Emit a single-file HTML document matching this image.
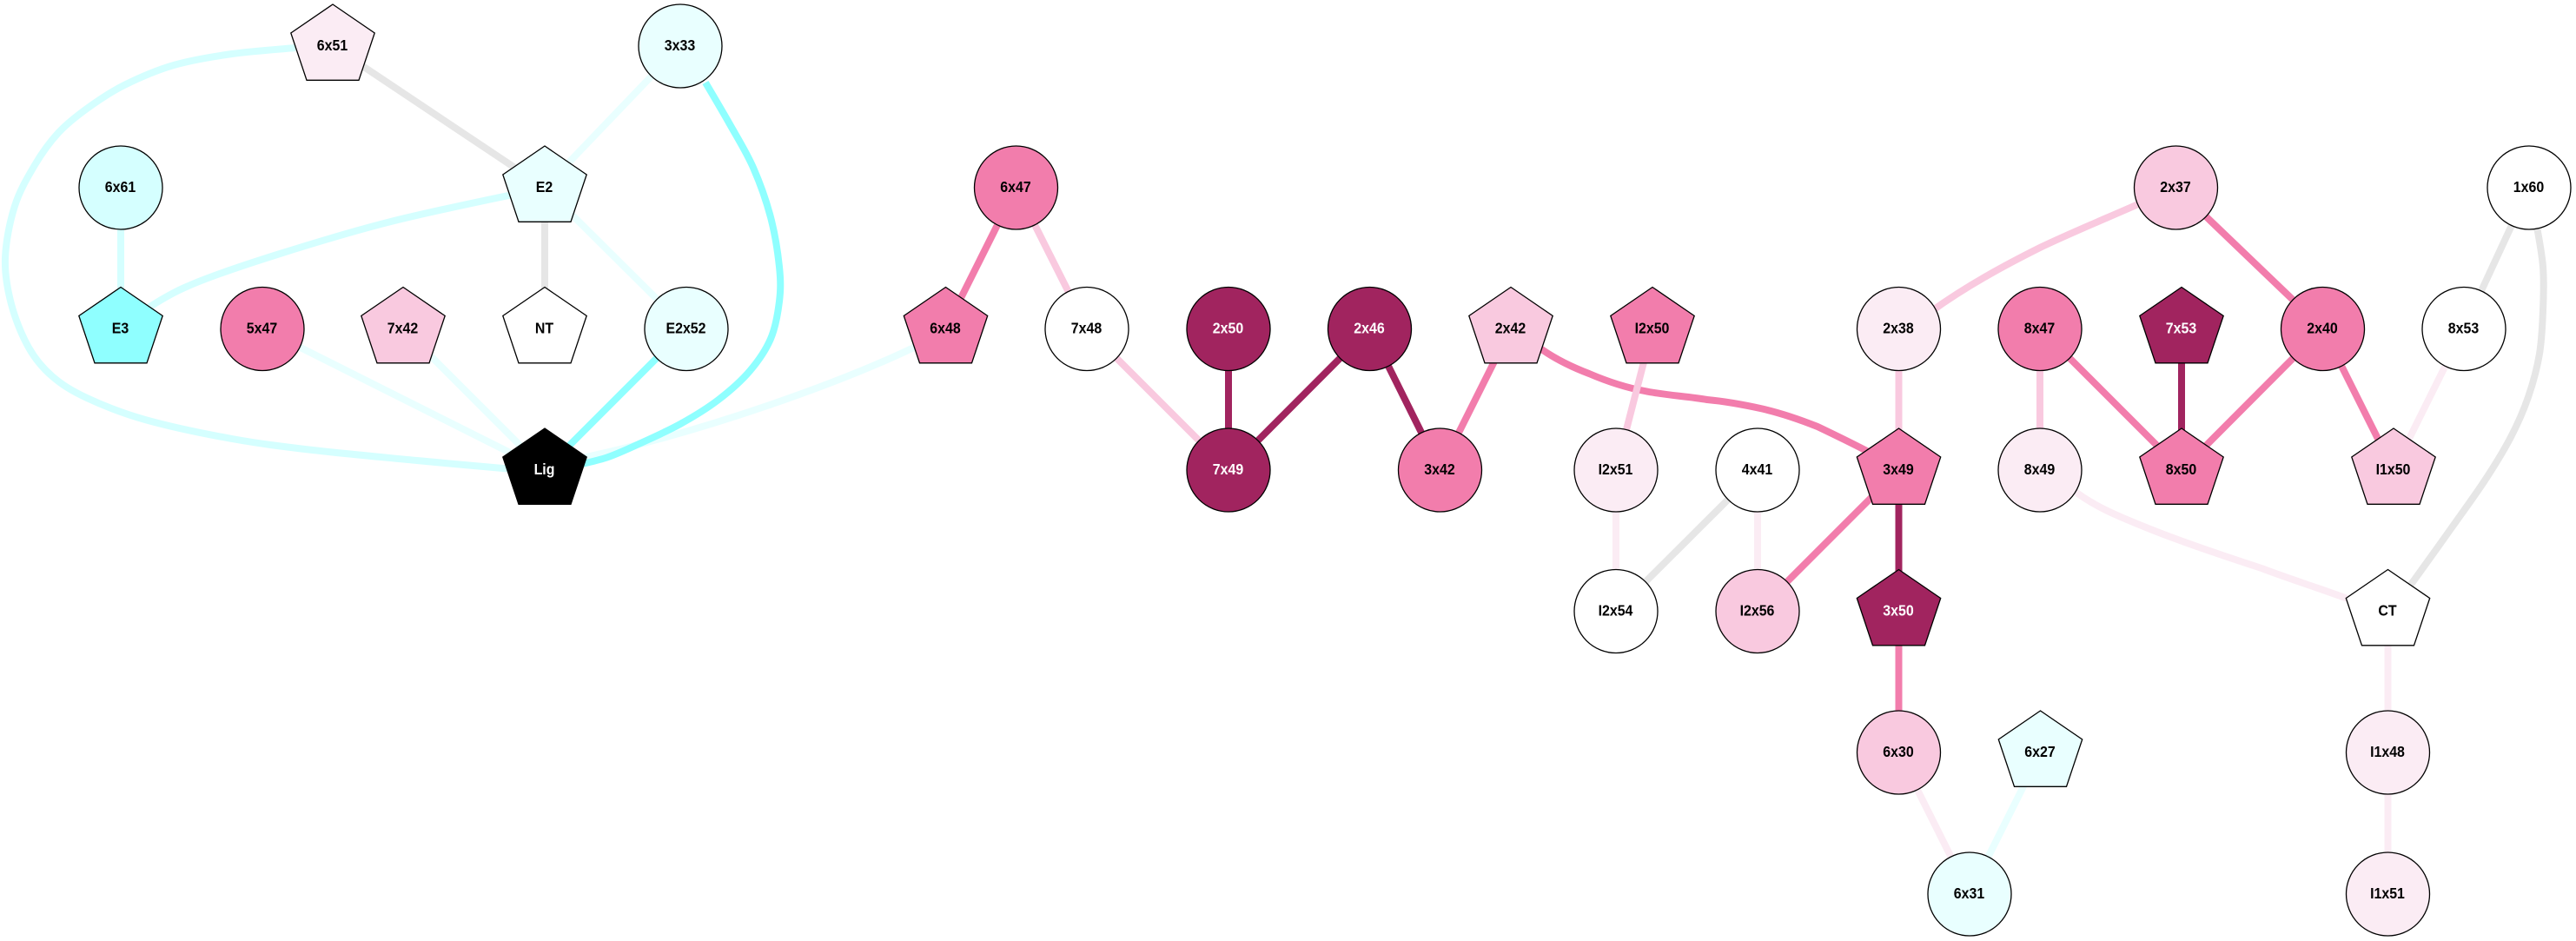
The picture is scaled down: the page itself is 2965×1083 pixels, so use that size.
<!DOCTYPE html>
<html><head><meta charset="utf-8"><style>
html,body{margin:0;padding:0;background:#fff;width:2965px;height:1083px;overflow:hidden}
svg{display:block}
text{font:bold 17.5px "Liberation Sans",Arial,sans-serif;text-anchor:middle;transform:translateX(-.5px) scaleX(.91)}
.e{fill:none;stroke-width:8}
.n{stroke:#000;stroke-width:1.3}
.dk{stroke:#a1245f}.pk{stroke:#f27dac}.lp{stroke:#f9c9df}.vl{stroke:#fbecf4}.gy{stroke:#e6e6e6}.cy{stroke:#8fffff}.lc{stroke:#d5ffff}.vc{stroke:#e9ffff}
</style></head><body>
<svg width="2965" height="1083" viewBox="0 0 2965 1083" xmlns="http://www.w3.org/2000/svg">
<rect width="2965" height="1083" fill="#fff"/>
<g class="e">
<path class="e lc" d="M340,55 C328,56.2 290.3,58.7 267,62 C243.7,65.3 220.7,69 200,75 C179.3,81 159.7,89.7 143,98 C126.3,106.3 112.7,115.8 100,125 C87.3,134.2 77,142.2 67,153 C57,163.8 48.3,176 40,190 C31.7,204 22.7,219.2 17,237 C11.3,254.8 6.7,278.2 6,297 C5.3,315.8 8.5,332.8 13,350 C17.5,367.2 25.2,386.2 33,400 C40.8,413.8 48.8,423.3 60,433 C71.2,442.7 82.2,449.7 100,458 C117.8,466.3 139.2,475.2 167,483 C194.8,490.8 234.8,499.2 267,505 C299.2,510.8 324.5,513.8 360,518 C395.5,522.2 441.7,526.3 480,530 C518.3,533.7 572,538.3 590,540"/>
<path class="e vc" d="M1060,396 C970,440 810,497 670,527"/>
<path class="e cy" d="M812,95 C816.7,103 830.8,126.7 840,143 C849.2,159.3 859.2,175.2 867,193 C874.8,210.8 882,231 887,250 C892,269 895.3,290.8 897,307 C898.7,323.2 898.7,333.2 897,347 C895.3,360.8 892.7,376.7 887,390 C881.3,403.3 873,415.3 863,427 C853,438.7 840.3,449.8 827,460 C813.7,470.2 798.7,479.3 783,488 C767.3,496.7 746.8,505.7 733,512 C719.2,518.3 710.5,522.3 700,526 C689.5,529.7 675,532.7 670,534"/>
<path class="e lc" d="M590,224 C566,229 491,244.5 446,256 C401,267.5 357,281 319,293 C281,305 242,318 217,329 C200,336 183,346 165,358"/>
<path class="e pk" d="M1765,395 C1785,411 1808,422 1829,430 C1850,439 1871,446 1893,450 C1917,455 1942,456 1965,460 C1987,462 2008,466 2029,470.6 C2052,476 2072,483 2092,491 C2115,502 2138,513 2160,525"/>
<path class="e lp" d="M2470,231 C2430,249 2390,265 2348,285 C2310,304 2265,328 2222,359"/>
<path class="e vl" d="M2385,563 C2410,583 2440,595 2475,609 C2515,625 2560,640 2603,654 C2640,668 2670,677 2710,692"/>
<path class="e gy" d="M2919,255 C2920.3,263.7 2925.7,290 2927,307 C2928.3,324 2927.7,340.3 2927,357 C2926.3,373.7 2925.8,390.3 2923,407 C2920.2,423.7 2915.5,441 2910,457 C2904.5,473 2898.3,487 2890,503 C2881.7,519 2871.7,535.2 2860,553 C2848.3,570.8 2833.8,590.5 2820,610 C2806.2,629.5 2786.2,657.2 2777,670 C2767.8,682.8 2767,684 2765,687"/>
<line class="e gy" x1="383" y1="53" x2="627" y2="216"/>
<line class="e vc" x1="783" y1="53" x2="627" y2="216"/>
<line class="e gy" x1="627" y1="216" x2="627" y2="378"/>
<line class="e vc" x1="627" y1="216" x2="790" y2="378"/>
<line class="e lc" x1="139" y1="216" x2="139" y2="378"/>
<line class="e vc" x1="302" y1="378" x2="627" y2="541"/>
<line class="e vc" x1="464" y1="378" x2="627" y2="541"/>
<line class="e cy" x1="790" y1="378" x2="627" y2="541"/>
<line class="e pk" x1="1169.5" y1="216" x2="1088.5" y2="378"/>
<line class="e lp" x1="1169.5" y1="216" x2="1251" y2="378"/>
<line class="e lp" x1="1251" y1="378" x2="1414" y2="541"/>
<line class="e dk" x1="1414" y1="378" x2="1414" y2="541"/>
<line class="e dk" x1="1576.5" y1="378" x2="1414" y2="541"/>
<line class="e dk" x1="1576.5" y1="378" x2="1657.5" y2="541"/>
<line class="e pk" x1="1739" y1="378" x2="1657.5" y2="541"/>
<line class="e lp" x1="1902" y1="378" x2="1860" y2="541"/>
<line class="e vl" x1="1860" y1="541" x2="1860" y2="703.5"/>
<line class="e gy" x1="2023" y1="541" x2="1860" y2="703.5"/>
<line class="e vl" x1="2023" y1="541" x2="2023" y2="703.5"/>
<line class="e pk" x1="2185.5" y1="541" x2="2023" y2="703.5"/>
<line class="e dk" x1="2185.5" y1="541" x2="2185.5" y2="703.5"/>
<line class="e lp" x1="2185.5" y1="378" x2="2185.5" y2="541"/>
<line class="e lp" x1="2348" y1="378" x2="2348" y2="541"/>
<line class="e pk" x1="2348" y1="378" x2="2511" y2="541"/>
<line class="e dk" x1="2511" y1="378" x2="2511" y2="541"/>
<line class="e pk" x1="2673.5" y1="378" x2="2511" y2="541"/>
<line class="e pk" x1="2504.5" y1="216" x2="2673.5" y2="378"/>
<line class="e pk" x1="2673.5" y1="378" x2="2755" y2="541"/>
<line class="e vl" x1="2836" y1="378" x2="2755" y2="541"/>
<line class="e gy" x1="2911" y1="216" x2="2836" y2="378"/>
<line class="e pk" x1="2185.5" y1="703.5" x2="2185.5" y2="866"/>
<line class="e vl" x1="2185.5" y1="866" x2="2267" y2="1029"/>
<line class="e vc" x1="2348.5" y1="866" x2="2267" y2="1029"/>
<line class="e vl" x1="2748.5" y1="703.5" x2="2748.5" y2="866"/>
<line class="e vl" x1="2748.5" y1="866" x2="2748.5" y2="1029"/>
</g>
<g transform="translate(383,53)"><polygon class="n" fill="#fbecf4" points="0,-48 48.2,-15 30,39.3 -30,39.3 -48.2,-15"/><text y="5">6x51</text></g>
<g transform="translate(783,53)"><circle class="n" r="48" fill="#e9ffff"/><text y="5">3x33</text></g>
<g transform="translate(139,216)"><circle class="n" r="48" fill="#d5ffff"/><text y="5">6x61</text></g>
<g transform="translate(627,216)"><polygon class="n" fill="#e9ffff" points="0,-48 48.2,-15 30,39.3 -30,39.3 -48.2,-15"/><text y="5">E2</text></g>
<g transform="translate(139,378.5)"><polygon class="n" fill="#8fffff" points="0,-48 48.2,-15 30,39.3 -30,39.3 -48.2,-15"/><text y="5">E3</text></g>
<g transform="translate(302,378.5)"><circle class="n" r="48" fill="#f27dac"/><text y="5">5x47</text></g>
<g transform="translate(464,378.5)"><polygon class="n" fill="#f9c9df" points="0,-48 48.2,-15 30,39.3 -30,39.3 -48.2,-15"/><text y="5">7x42</text></g>
<g transform="translate(627,378.5)"><polygon class="n" fill="#fff" points="0,-48 48.2,-15 30,39.3 -30,39.3 -48.2,-15"/><text y="5">NT</text></g>
<g transform="translate(790,378.5)"><circle class="n" r="48" fill="#e9ffff"/><text y="5">E2x52</text></g>
<g transform="translate(627,541)"><polygon class="n" fill="#000" points="0,-48 48.2,-15 30,39.3 -30,39.3 -48.2,-15"/><text y="5" fill="#fff">Lig</text></g>
<g transform="translate(1169.5,216)"><circle class="n" r="48" fill="#f27dac"/><text y="5">6x47</text></g>
<g transform="translate(1088.5,378.5)"><polygon class="n" fill="#f27dac" points="0,-48 48.2,-15 30,39.3 -30,39.3 -48.2,-15"/><text y="5">6x48</text></g>
<g transform="translate(1251,378.5)"><circle class="n" r="48" fill="#fff"/><text y="5">7x48</text></g>
<g transform="translate(1414,378.5)"><circle class="n" r="48" fill="#a1245f"/><text y="5" fill="#fff">2x50</text></g>
<g transform="translate(1576.5,378.5)"><circle class="n" r="48" fill="#a1245f"/><text y="5" fill="#fff">2x46</text></g>
<g transform="translate(1739,378.5)"><polygon class="n" fill="#f9c9df" points="0,-48 48.2,-15 30,39.3 -30,39.3 -48.2,-15"/><text y="5">2x42</text></g>
<g transform="translate(1902,378.5)"><polygon class="n" fill="#f27dac" points="0,-48 48.2,-15 30,39.3 -30,39.3 -48.2,-15"/><text y="5">I2x50</text></g>
<g transform="translate(1414,541)"><circle class="n" r="48" fill="#a1245f"/><text y="5" fill="#fff">7x49</text></g>
<g transform="translate(1657.5,541)"><circle class="n" r="48" fill="#f27dac"/><text y="5">3x42</text></g>
<g transform="translate(1860,541)"><circle class="n" r="48" fill="#fbecf4"/><text y="5">I2x51</text></g>
<g transform="translate(2023,541)"><circle class="n" r="48" fill="#fff"/><text y="5">4x41</text></g>
<g transform="translate(1860,703.5)"><circle class="n" r="48" fill="#fff"/><text y="5">I2x54</text></g>
<g transform="translate(2023,703.5)"><circle class="n" r="48" fill="#f9c9df"/><text y="5">I2x56</text></g>
<g transform="translate(2504.5,216)"><circle class="n" r="48" fill="#f9c9df"/><text y="5">2x37</text></g>
<g transform="translate(2911,216)"><circle class="n" r="48" fill="#fff"/><text y="5">1x60</text></g>
<g transform="translate(2185.5,378.5)"><circle class="n" r="48" fill="#fbecf4"/><text y="5">2x38</text></g>
<g transform="translate(2348,378.5)"><circle class="n" r="48" fill="#f27dac"/><text y="5">8x47</text></g>
<g transform="translate(2511,378.5)"><polygon class="n" fill="#a1245f" points="0,-48 48.2,-15 30,39.3 -30,39.3 -48.2,-15"/><text y="5" fill="#fff">7x53</text></g>
<g transform="translate(2673.5,378.5)"><circle class="n" r="48" fill="#f27dac"/><text y="5">2x40</text></g>
<g transform="translate(2836,378.5)"><circle class="n" r="48" fill="#fff"/><text y="5">8x53</text></g>
<g transform="translate(2185.5,541)"><polygon class="n" fill="#f27dac" points="0,-48 48.2,-15 30,39.3 -30,39.3 -48.2,-15"/><text y="5">3x49</text></g>
<g transform="translate(2348,541)"><circle class="n" r="48" fill="#fbecf4"/><text y="5">8x49</text></g>
<g transform="translate(2511,541)"><polygon class="n" fill="#f27dac" points="0,-48 48.2,-15 30,39.3 -30,39.3 -48.2,-15"/><text y="5">8x50</text></g>
<g transform="translate(2755,541)"><polygon class="n" fill="#f9c9df" points="0,-48 48.2,-15 30,39.3 -30,39.3 -48.2,-15"/><text y="5">I1x50</text></g>
<g transform="translate(2185.5,703.5)"><polygon class="n" fill="#a1245f" points="0,-48 48.2,-15 30,39.3 -30,39.3 -48.2,-15"/><text y="5" fill="#fff">3x50</text></g>
<g transform="translate(2748.5,703.5)"><polygon class="n" fill="#fff" points="0,-48 48.2,-15 30,39.3 -30,39.3 -48.2,-15"/><text y="5">CT</text></g>
<g transform="translate(2185.5,866)"><circle class="n" r="48" fill="#f9c9df"/><text y="5">6x30</text></g>
<g transform="translate(2348.5,866)"><polygon class="n" fill="#e9ffff" points="0,-48 48.2,-15 30,39.3 -30,39.3 -48.2,-15"/><text y="5">6x27</text></g>
<g transform="translate(2267,1029)"><circle class="n" r="48" fill="#e9ffff"/><text y="5">6x31</text></g>
<g transform="translate(2748.5,866)"><circle class="n" r="48" fill="#fbecf4"/><text y="5">I1x48</text></g>
<g transform="translate(2748.5,1029)"><circle class="n" r="48" fill="#fbecf4"/><text y="5">I1x51</text></g>
</svg>
</body></html>
